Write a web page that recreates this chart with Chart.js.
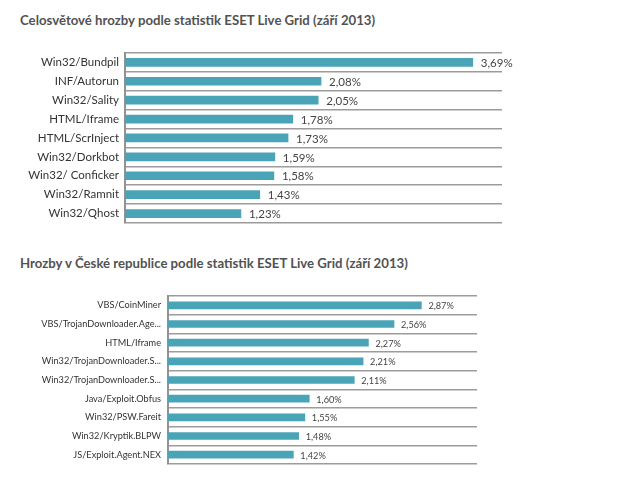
<!DOCTYPE html>
<html>
<head>
<meta charset="utf-8">
<script src="https://cdn.jsdelivr.net/npm/chart.js@4/dist/chart.umd.min.js"></script>
<style>
    body { margin: 0; background: #fff; width: 621px; height: 483px; overflow: hidden; position: relative; }
    .title { position: absolute; left: 20px; margin: 0; font: bold 13.2px Lato, sans-serif; color: #525252; white-space: nowrap; }
    .box { position: absolute; left: 0; width: 621px; height: 200px; }
</style>
</head>
<body>
<h2 class="title" style="top: 12px;">Celosvětové hrozby podle statistik ESET Live Grid (září 2013)</h2>
<div class="box" style="top: 40px;"><canvas id="world-chart"></canvas></div>
<h2 class="title" style="top: 255px;">Hrozby v České republice podle statistik ESET Live Grid (září 2013)</h2>
<div class="box" style="top: 280px;"><canvas id="cz-chart"></canvas></div>
<script>
// Worldwide threats (%)
const worldLabels = ['Win32/Bundpil', 'INF/Autorun', 'Win32/Sality', 'HTML/Iframe', 'HTML/ScrInject',
    'Win32/Dorkbot', 'Win32/ Conficker', 'Win32/Ramnit', 'Win32/Qhost'];
const worldValues = [3.69, 2.08, 2.05, 1.78, 1.73, 1.59, 1.58, 1.43, 1.23];

// Czech Republic threats (%)
const czLabels = ['VBS/CoinMiner', 'VBS/TrojanDownloader.Age...', 'HTML/Iframe', 'Win32/TrojanDownloader.S...',
    'Win32/TrojanDownloader.S...', 'Java/Exploit.Obfus', 'Win32/PSW.Fareit', 'Win32/Kryptik.BLPW', 'JS/Exploit.Agent.NEX'];
const czValues = [2.87, 2.56, 2.27, 2.21, 2.11, 1.60, 1.55, 1.48, 1.42];

const barColor = '#4aa4b8';
const lineColor = '#9c9c9c';

// Formats 3.69 -> "3,69%"
function formatPercent(value) {
    return value.toFixed(2).replace('.', ',') + '%';
}

// Draws value text right after each bar
const valueLabels = {
    id: 'valueLabels',
    afterDatasetsDraw(chart, args, opts) {
        const ctx = chart.ctx;
        const values = chart.data.datasets[0].data;
        ctx.save();
        ctx.font = opts.font;
        ctx.fillStyle = '#444';
        ctx.textBaseline = 'middle';
        chart.getDatasetMeta(0).data.forEach((bar, i) => {
            ctx.fillText(formatPercent(values[i]), bar.x + opts.gap, bar.y + 1);
        });
        ctx.restore();
    }
};

function buildChart(canvasId, labels, values, cfg) {
    return new Chart(document.getElementById(canvasId), {
        type: 'bar',
        data: {
            labels: labels,
            datasets: [{
                data: values,
                backgroundColor: barColor,
                barThickness: cfg.barThickness,
            }],
        },
        options: {
            indexAxis: 'y',
            responsive: true,
            maintainAspectRatio: false,
            animation: false,
            layout: { padding: cfg.padding },
            plugins: {
                legend: { display: false },
                tooltip: { enabled: false },
                valueLabels: { font: cfg.valueFont, gap: cfg.gap },
            },
            scales: {
                x: {
                    display: false,
                    min: 0,
                    max: cfg.xMax,
                },
                y: {
                    afterFit: scale => { scale.width = cfg.axisLeft; },
                    grid: { color: lineColor, lineWidth: 1.6, drawTicks: false, offset: true },
                    border: { color: '#929292', width: 2 },
                    ticks: { color: '#333', font: cfg.tickFont, padding: cfg.tickPadding },
                },
            },
        },
        plugins: [valueLabels],
    });
}

buildChart('world-chart', worldLabels, worldValues, {
    axisLeft: 125,
    padding: { top: 10, bottom: 17, left: 0, right: 119 },
    xMax: 4,
    barThickness: 8,
    tickFont: { family: 'Lato', size: 11.5 },
    tickPadding: 6,
    valueFont: '11.5px Lato',
    gap: 8,
});

buildChart('cz-chart', czLabels, czValues, {
    axisLeft: 168,
    padding: { top: 16, bottom: 16, left: 0, right: 144 },
    xMax: 3.5,
    barThickness: 7,
    tickFont: { family: 'Lato', size: 9.2 },
    tickPadding: 7,
    valueFont: '9.2px Lato',
    gap: 7,
});
</script>
</body>
</html>
